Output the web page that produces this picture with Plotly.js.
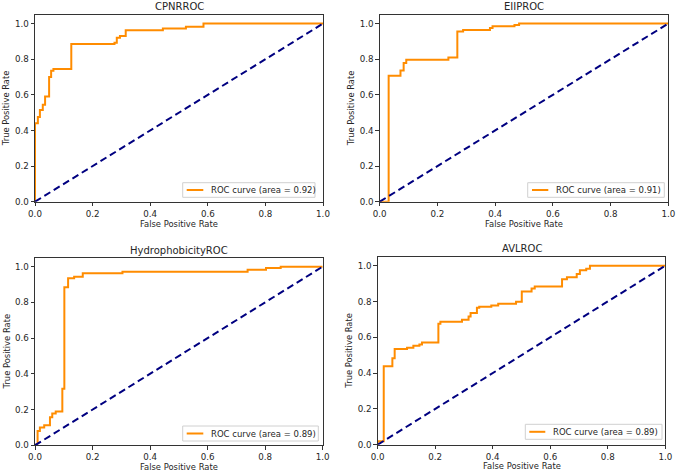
<!DOCTYPE html>
<html>
<head>
<meta charset="utf-8">
<script src="https://cdn.plot.ly/plotly-3.0.1.min.js"></script>
<style>html,body{margin:0;padding:0;background:#fff;}#chart{width:676px;height:473px;}</style>
</head>
<body>
<div id="chart"></div>
<script>
// ---- data ----
const titles = ["CPNRROC", "EIIPROC", "HydrophobicityROC", "AVLROC"];
const aucLabels = ["ROC curve (area = 0.92)", "ROC curve (area = 0.91)", "ROC curve (area = 0.89)", "ROC curve (area = 0.89)"];
const xLabel = "False Positive Rate";
const yLabel = "True Positive Rate";

const fprCPNR = [0, 0, 0.010, 0.010, 0.017, 0.017, 0.027, 0.027, 0.035, 0.035, 0.049, 0.049, 0.056, 0.056, 0.064, 0.064, 0.126, 0.126, 0.276, 0.276, 0.284, 0.284, 0.295, 0.295, 0.315, 0.315, 0.444, 0.444, 0.524, 0.524, 0.585, 0.585, 1.0];
const tprCPNR = [0, 0.440, 0.440, 0.475, 0.475, 0.515, 0.515, 0.545, 0.545, 0.590, 0.590, 0.700, 0.700, 0.735, 0.735, 0.745, 0.745, 0.885, 0.885, 0.893, 0.893, 0.920, 0.920, 0.930, 0.930, 0.963, 0.963, 0.973, 0.973, 0.983, 0.983, 1.0, 1.0];

const fprEIIP = [0, 0.031, 0.031, 0.072, 0.072, 0.083, 0.083, 0.092, 0.092, 0.238, 0.238, 0.269, 0.269, 0.289, 0.289, 0.382, 0.382, 0.391, 0.391, 0.467, 0.467, 0.483, 0.483, 1.0];
const tprEIIP = [0, 0, 0.707, 0.707, 0.737, 0.737, 0.779, 0.779, 0.797, 0.797, 0.809, 0.809, 0.955, 0.955, 0.964, 0.964, 0.976, 0.976, 0.985, 0.985, 0.992, 0.992, 1.0, 1.0];

const fprHydro = [0, 0.009, 0.009, 0.017, 0.017, 0.032, 0.032, 0.052, 0.052, 0.060, 0.060, 0.072, 0.072, 0.095, 0.095, 0.102, 0.102, 0.115, 0.115, 0.136, 0.136, 0.166, 0.166, 0.304, 0.304, 0.739, 0.739, 0.803, 0.803, 0.854, 0.854, 1.0];
const tprHydro = [0, 0.010, 0.080, 0.080, 0.099, 0.099, 0.112, 0.112, 0.157, 0.157, 0.178, 0.178, 0.189, 0.189, 0.316, 0.316, 0.884, 0.884, 0.935, 0.935, 0.944, 0.944, 0.963, 0.963, 0.972, 0.972, 0.983, 0.983, 0.993, 0.993, 1.0, 1.0];

const fprAVL = [0, 0, 0.021, 0.021, 0.051, 0.051, 0.059, 0.059, 0.102, 0.102, 0.124, 0.124, 0.145, 0.145, 0.154, 0.154, 0.211, 0.211, 0.218, 0.218, 0.293, 0.293, 0.316, 0.316, 0.323, 0.323, 0.345, 0.345, 0.353, 0.353, 0.395, 0.395, 0.419, 0.419, 0.481, 0.481, 0.501, 0.501, 0.535, 0.535, 0.546, 0.546, 0.641, 0.641, 0.658, 0.658, 0.692, 0.692, 0.703, 0.703, 0.725, 0.725, 0.738, 0.738, 1.0];
const tprAVL = [0, 0.019, 0.019, 0.438, 0.438, 0.483, 0.483, 0.534, 0.534, 0.541, 0.541, 0.552, 0.552, 0.560, 0.560, 0.571, 0.571, 0.675, 0.675, 0.687, 0.687, 0.698, 0.698, 0.716, 0.716, 0.735, 0.735, 0.765, 0.765, 0.770, 0.770, 0.778, 0.778, 0.787, 0.787, 0.799, 0.799, 0.856, 0.856, 0.873, 0.873, 0.884, 0.884, 0.924, 0.924, 0.935, 0.935, 0.953, 0.953, 0.974, 0.974, 0.983, 0.983, 1.0, 1.0];

const chanceX = [0, 1];
const chanceY = [0, 1];

const fprs = [fprCPNR, fprEIIP, fprHydro, fprAVL];
const tprs = [tprCPNR, tprEIIP, tprHydro, tprAVL];

// ---- layout geometry ----
const W = 676, H = 473;
const boxes = [ // [left, right, top, bottom] in px
  [35, 323, 14.7, 201.7],
  [379.7, 668.3, 14.7, 201.7],
  [35, 322.7, 257.7, 445.3],
  [377.7, 665.3, 256.7, 444.7]
];
const titleY = [6.5, 6.5, 250, 249];
const xTitleY = [224, 224, 466.5, 466];
const yTitleX = [6, 351, 6, 349];
// legend box: [left, right, top, bottom, lineStart, lineEnd, textStart]
const legendBox = [
  [182.7, 315, 182.7, 197.3, 186.7, 203.3, 209.3],
  [527.7, 664.3, 182.7, 197.3, 532, 548.3, 554.3],
  [182.7, 318.3, 426, 441, 186.7, 203.3, 209.3],
  [525.3, 662, 424.3, 439.3, 529.3, 545.3, 551]
];

const FONT = "DejaVu Sans, Verdana, sans-serif";
const TXT = "#262626";
const px = v => v / W;
const py = v => 1 - v / H;

const traces = [];
const layout = {
  width: W, height: H,
  margin: {l: 0, r: 0, t: 0, b: 0},
  paper_bgcolor: "#ffffff",
  plot_bgcolor: "#ffffff",
  font: {family: FONT, size: 8.5, color: TXT},
  showlegend: false,
  annotations: [],
  shapes: []
};

for (let i = 0; i < 4; i++) {
  const n = i === 0 ? "" : String(i + 1);
  const [l, r, t, b] = boxes[i];
  traces.push({
    x: fprs[i], y: tprs[i], xaxis: "x" + n, yaxis: "y" + n,
    type: "scatter", mode: "lines",
    line: {color: "#ff8c00", width: 2},
    name: aucLabels[i], showlegend: false, hoverinfo: "skip"
  });
  traces.push({
    x: chanceX, y: chanceY, xaxis: "x" + n, yaxis: "y" + n,
    type: "scatter", mode: "lines",
    line: {color: "#000080", width: 2, dash: "7px,4px"},
    showlegend: false, hoverinfo: "skip"
  });
  const axCommon = {
    showgrid: false, zeroline: false, showline: true, mirror: true,
    linecolor: "#333333", linewidth: 1,
    ticks: "outside", ticklen: 3.5, tickwidth: 1, tickcolor: "#333333",
    tickfont: {family: FONT, size: 8.7, color: TXT},
    tickformat: ".1f", dtick: 0.2, tick0: 0, fixedrange: true
  };
  layout["xaxis" + n] = Object.assign({}, axCommon, {
    domain: [l / W, r / W], anchor: "y" + n, range: [0, 1]
  });
  layout["yaxis" + n] = Object.assign({}, axCommon, {
    domain: [1 - b / H, 1 - t / H], anchor: "x" + n, range: [0, 1.05]
  });
  // subplot title & axis titles
  layout.annotations.push({
    text: titles[i], xref: "paper", yref: "paper",
    x: px((l + r) / 2), y: py(titleY[i]),
    xanchor: "center", yanchor: "middle", showarrow: false,
    font: {family: FONT, size: 10, color: TXT}
  });
  layout.annotations.push({
    text: xLabel, xref: "paper", yref: "paper",
    x: px((l + r) / 2), y: py(xTitleY[i]),
    xanchor: "center", yanchor: "middle", showarrow: false,
    font: {family: FONT, size: 8.4, color: TXT}
  });
  layout.annotations.push({
    text: yLabel, xref: "paper", yref: "paper",
    x: px(yTitleX[i]), y: py((t + b) / 2),
    xanchor: "center", yanchor: "middle", showarrow: false, textangle: -90,
    font: {family: FONT, size: 8.4, color: TXT}
  });
  // legend (matplotlib-style compact box)
  const lb = legendBox[i];
  const cy = (lb[2] + lb[3]) / 2;
  layout.shapes.push({
    type: "rect", xref: "paper", yref: "paper",
    x0: px(lb[0]), x1: px(lb[1]), y0: py(lb[3]), y1: py(lb[2]),
    line: {color: "#d0d0d0", width: 1}, fillcolor: "rgba(255,255,255,0.85)", layer: "above"
  });
  layout.shapes.push({
    type: "line", xref: "paper", yref: "paper",
    x0: px(lb[4]), x1: px(lb[5]), y0: py(cy), y1: py(cy),
    line: {color: "#ff8c00", width: 2}, layer: "above"
  });
  layout.annotations.push({
    text: aucLabels[i], xref: "paper", yref: "paper",
    x: px(lb[6]), y: py(cy),
    xanchor: "left", yanchor: "middle", showarrow: false,
    font: {family: FONT, size: 8.5, color: TXT}
  });
}

Plotly.newPlot("chart", traces, layout, {staticPlot: true, displayModeBar: false});
</script>
</body>
</html>
